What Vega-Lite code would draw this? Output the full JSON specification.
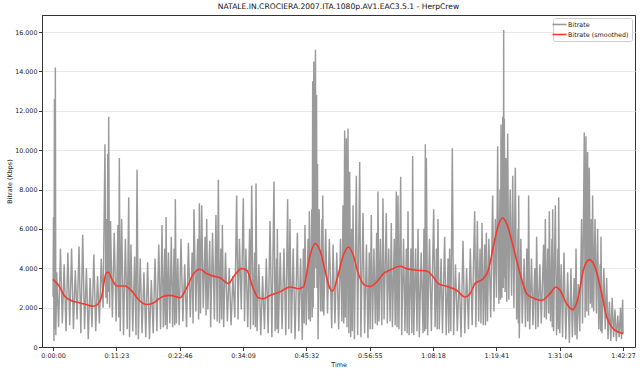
{
"$schema": "https://vega.github.io/schema/vega-lite/v6.json",
"width": 593, "height": 332,
"autosize": {"type": "none"},
"padding": {"left": 42, "top": 15, "right": 5, "bottom": 25},
"title": {"text": "NATALE.IN.CROCIERA.2007.ITA.1080p.AV1.EAC3.5.1 - HerpCrew", "fontSize": 7.6, "fontWeight": "normal", "color": "#111", "offset": 4},
"datasets": {
"raw": [
{"t":0,"b":2550},{"t":5,"b":6600},{"t":10,"b":300},{"t":15,"b":12600},{"t":20,"b":900},{"t":25,"b":14200},{"t":30,"b":600},{"t":40,"b":3800},{"t":60,"b":1000},{"t":80,"b":5000},{"t":100,"b":1200},{"t":120,"b":4200},{"t":140,"b":800},{"t":160,"b":4800},{"t":180,"b":1100},{"t":200,"b":5000},{"t":220,"b":900},{"t":240,"b":3900},{"t":260,"b":1400},{"t":280,"b":5100},{"t":300,"b":700},{"t":320,"b":5700},{"t":340,"b":900},{"t":360,"b":4000},{"t":380,"b":400},{"t":400,"b":3500},{"t":420,"b":1000},{"t":440,"b":4700},{"t":460,"b":800},{"t":480,"b":3600},{"t":500,"b":1200},{"t":520,"b":4500},{"t":540,"b":2000},{"t":560,"b":10300},{"t":570,"b":2500},{"t":580,"b":6500},{"t":585,"b":2200},{"t":590,"b":9800},{"t":595,"b":2800},{"t":600,"b":11700},{"t":610,"b":2000},{"t":620,"b":6400},{"t":640,"b":1500},{"t":660,"b":5800},{"t":680,"b":1300},{"t":700,"b":6200},{"t":708,"b":1500},{"t":715,"b":9600},{"t":725,"b":800},{"t":740,"b":6500},{"t":760,"b":600},{"t":780,"b":5500},{"t":800,"b":900},{"t":816,"b":7600},{"t":825,"b":500},{"t":840,"b":5200},{"t":860,"b":800},{"t":880,"b":4600},{"t":895,"b":600},{"t":906,"b":9000},{"t":920,"b":400},{"t":940,"b":4500},{"t":960,"b":700},{"t":980,"b":3800},{"t":1000,"b":500},{"t":1020,"b":4300},{"t":1040,"b":400},{"t":1060,"b":3400},{"t":1080,"b":700},{"t":1100,"b":4500},{"t":1120,"b":800},{"t":1140,"b":5200},{"t":1160,"b":900},{"t":1175,"b":6200},{"t":1190,"b":1000},{"t":1205,"b":5000},{"t":1212,"b":1100},{"t":1219,"b":6600},{"t":1230,"b":900},{"t":1245,"b":4800},{"t":1260,"b":1200},{"t":1275,"b":5600},{"t":1290,"b":1000},{"t":1305,"b":5000},{"t":1312,"b":1100},{"t":1319,"b":7500},{"t":1330,"b":1200},{"t":1345,"b":4500},{"t":1360,"b":1100},{"t":1380,"b":5500},{"t":1400,"b":1300},{"t":1420,"b":4200},{"t":1440,"b":1000},{"t":1460,"b":5300},{"t":1480,"b":1500},{"t":1500,"b":4800},{"t":1510,"b":1200},{"t":1520,"b":7000},{"t":1540,"b":1800},{"t":1560,"b":5500},{"t":1570,"b":1400},{"t":1578,"b":7300},{"t":1590,"b":1700},{"t":1603,"b":7200},{"t":1620,"b":2000},{"t":1640,"b":5600},{"t":1650,"b":1600},{"t":1657,"b":6500},{"t":1670,"b":1900},{"t":1690,"b":5400},{"t":1700,"b":1000},{"t":1720,"b":5800},{"t":1740,"b":1400},{"t":1757,"b":6700},{"t":1770,"b":1300},{"t":1783,"b":8500},{"t":1795,"b":1200},{"t":1810,"b":5000},{"t":1818,"b":1400},{"t":1826,"b":6200},{"t":1840,"b":1000},{"t":1860,"b":4800},{"t":1880,"b":1300},{"t":1900,"b":4000},{"t":1920,"b":1100},{"t":1940,"b":3600},{"t":1960,"b":1500},{"t":1980,"b":7700},{"t":1995,"b":1400},{"t":2010,"b":5500},{"t":2030,"b":1900},{"t":2052,"b":7550},{"t":2065,"b":1300},{"t":2080,"b":5000},{"t":2100,"b":1000},{"t":2120,"b":6000},{"t":2130,"b":900},{"t":2142,"b":8200},{"t":2160,"b":1100},{"t":2175,"b":4800},{"t":2182,"b":1000},{"t":2189,"b":8300},{"t":2200,"b":800},{"t":2220,"b":4200},{"t":2240,"b":600},{"t":2260,"b":3600},{"t":2280,"b":900},{"t":2300,"b":4500},{"t":2320,"b":700},{"t":2340,"b":6400},{"t":2360,"b":500},{"t":2383,"b":8400},{"t":2395,"b":800},{"t":2410,"b":4500},{"t":2415,"b":900},{"t":2419,"b":6000},{"t":2430,"b":700},{"t":2450,"b":4800},{"t":2470,"b":900},{"t":2490,"b":5000},{"t":2510,"b":600},{"t":2530,"b":7500},{"t":2542,"b":900},{"t":2555,"b":6500},{"t":2570,"b":700},{"t":2590,"b":5000},{"t":2610,"b":400},{"t":2635,"b":5800},{"t":2650,"b":800},{"t":2670,"b":4500},{"t":2688,"b":350},{"t":2700,"b":5000},{"t":2708,"b":1200},{"t":2717,"b":6200},{"t":2730,"b":1100},{"t":2750,"b":5500},{"t":2757,"b":1400},{"t":2764,"b":6900},{"t":2775,"b":1300},{"t":2790,"b":7000},{"t":2795,"b":1500},{"t":2800,"b":13500},{"t":2806,"b":2000},{"t":2812,"b":14500},{"t":2818,"b":3000},{"t":2826,"b":10400},{"t":2830,"b":15100},{"t":2836,"b":4000},{"t":2842,"b":12800},{"t":2846,"b":3000},{"t":2852,"b":9300},{"t":2858,"b":400},{"t":2870,"b":7000},{"t":2885,"b":1800},{"t":2900,"b":6500},{"t":2904,"b":1800},{"t":2908,"b":7700},{"t":2920,"b":1600},{"t":2940,"b":6000},{"t":2960,"b":1700},{"t":2980,"b":5500},{"t":3005,"b":950},{"t":3020,"b":5200},{"t":3040,"b":1200},{"t":3060,"b":4800},{"t":3080,"b":900},{"t":3100,"b":5500},{"t":3115,"b":1300},{"t":3127,"b":7200},{"t":3135,"b":1200},{"t":3145,"b":11000},{"t":3152,"b":1500},{"t":3163,"b":10600},{"t":3170,"b":1000},{"t":3181,"b":11100},{"t":3190,"b":700},{"t":3199,"b":8900},{"t":3210,"b":500},{"t":3220,"b":6000},{"t":3228,"b":800},{"t":3235,"b":7200},{"t":3250,"b":400},{"t":3271,"b":8700},{"t":3285,"b":600},{"t":3307,"b":9400},{"t":3320,"b":500},{"t":3343,"b":6800},{"t":3360,"b":700},{"t":3380,"b":5200},{"t":3396,"b":450},{"t":3410,"b":4800},{"t":3420,"b":900},{"t":3432,"b":6700},{"t":3445,"b":900},{"t":3460,"b":5000},{"t":3476,"b":1200},{"t":3490,"b":5800},{"t":3497,"b":1100},{"t":3504,"b":7900},{"t":3515,"b":1300},{"t":3530,"b":5500},{"t":3545,"b":1100},{"t":3558,"b":7550},{"t":3570,"b":1400},{"t":3594,"b":6800},{"t":3605,"b":1200},{"t":3620,"b":5000},{"t":3635,"b":1300},{"t":3648,"b":6300},{"t":3660,"b":1000},{"t":3680,"b":5500},{"t":3690,"b":1100},{"t":3702,"b":7900},{"t":3710,"b":1000},{"t":3720,"b":7700},{"t":3730,"b":900},{"t":3749,"b":8650},{"t":3760,"b":600},{"t":3780,"b":5500},{"t":3795,"b":800},{"t":3810,"b":5000},{"t":3819,"b":700},{"t":3828,"b":6900},{"t":3840,"b":600},{"t":3860,"b":5000},{"t":3870,"b":700},{"t":3878,"b":9700},{"t":3890,"b":600},{"t":3910,"b":5000},{"t":3925,"b":800},{"t":3936,"b":6000},{"t":3950,"b":500},{"t":3970,"b":4800},{"t":3990,"b":700},{"t":4000,"b":6000},{"t":4008,"b":800},{"t":4015,"b":10300},{"t":4020,"b":900},{"t":4026,"b":9600},{"t":4040,"b":600},{"t":4060,"b":5500},{"t":4080,"b":800},{"t":4105,"b":7000},{"t":4120,"b":1000},{"t":4135,"b":5000},{"t":4143,"b":900},{"t":4151,"b":6500},{"t":4165,"b":900},{"t":4185,"b":4500},{"t":4200,"b":700},{"t":4223,"b":5600},{"t":4240,"b":600},{"t":4260,"b":4500},{"t":4268,"b":700},{"t":4277,"b":5000},{"t":4290,"b":800},{"t":4306,"b":10100},{"t":4320,"b":600},{"t":4340,"b":4200},{"t":4360,"b":800},{"t":4380,"b":3800},{"t":4400,"b":500},{"t":4421,"b":5400},{"t":4440,"b":700},{"t":4460,"b":4000},{"t":4480,"b":900},{"t":4500,"b":5000},{"t":4520,"b":1100},{"t":4547,"b":6900},{"t":4560,"b":1000},{"t":4576,"b":6400},{"t":4590,"b":1300},{"t":4605,"b":5000},{"t":4615,"b":1200},{"t":4626,"b":6300},{"t":4640,"b":1100},{"t":4655,"b":5200},{"t":4664,"b":1100},{"t":4673,"b":5800},{"t":4685,"b":1300},{"t":4700,"b":5500},{"t":4720,"b":1500},{"t":4741,"b":7700},{"t":4755,"b":1800},{"t":4770,"b":6500},{"t":4782,"b":2500},{"t":4795,"b":10200},{"t":4808,"b":2200},{"t":4820,"b":8000},{"t":4826,"b":2400},{"t":4831,"b":11300},{"t":4840,"b":2500},{"t":4849,"b":11700},{"t":4855,"b":3000},{"t":4860,"b":16100},{"t":4863,"b":3500},{"t":4867,"b":11600},{"t":4875,"b":2800},{"t":4885,"b":9600},{"t":4893,"b":2300},{"t":4903,"b":10850},{"t":4915,"b":2400},{"t":4930,"b":8000},{"t":4945,"b":2600},{"t":4957,"b":8700},{"t":4970,"b":2000},{"t":4985,"b":9100},{"t":5000,"b":1400},{"t":5015,"b":6000},{"t":5018,"b":1200},{"t":5022,"b":7700},{"t":5028,"b":450},{"t":5045,"b":5500},{"t":5060,"b":1200},{"t":5080,"b":4500},{"t":5095,"b":1000},{"t":5110,"b":5000},{"t":5120,"b":1300},{"t":5129,"b":7700},{"t":5140,"b":900},{"t":5160,"b":4500},{"t":5175,"b":1100},{"t":5195,"b":4000},{"t":5205,"b":900},{"t":5215,"b":5600},{"t":5230,"b":1000},{"t":5250,"b":4200},{"t":5265,"b":1200},{"t":5290,"b":5200},{"t":5300,"b":1500},{"t":5309,"b":6500},{"t":5320,"b":1400},{"t":5335,"b":5000},{"t":5345,"b":1700},{"t":5352,"b":6900},{"t":5365,"b":1300},{"t":5380,"b":5500},{"t":5384,"b":1000},{"t":5388,"b":7000},{"t":5398,"b":800},{"t":5417,"b":7200},{"t":5430,"b":600},{"t":5445,"b":5000},{"t":5449,"b":900},{"t":5453,"b":7600},{"t":5465,"b":700},{"t":5480,"b":4200},{"t":5495,"b":500},{"t":5510,"b":4800},{"t":5530,"b":400},{"t":5550,"b":3800},{"t":5568,"b":200},{"t":5585,"b":4000},{"t":5600,"b":500},{"t":5620,"b":3500},{"t":5630,"b":600},{"t":5640,"b":5000},{"t":5650,"b":400},{"t":5665,"b":3200},{"t":5680,"b":800},{"t":5700,"b":6500},{"t":5710,"b":1200},{"t":5729,"b":10900},{"t":5738,"b":1500},{"t":5747,"b":10700},{"t":5755,"b":1800},{"t":5765,"b":9900},{"t":5775,"b":1600},{"t":5783,"b":9100},{"t":5795,"b":2200},{"t":5805,"b":6500},{"t":5812,"b":2000},{"t":5819,"b":7700},{"t":5830,"b":1800},{"t":5845,"b":6500},{"t":5860,"b":1700},{"t":5873,"b":6000},{"t":5885,"b":900},{"t":5900,"b":4200},{"t":5905,"b":800},{"t":5909,"b":5600},{"t":5920,"b":700},{"t":5940,"b":4000},{"t":5955,"b":900},{"t":5970,"b":3500},{"t":5985,"b":400},{"t":6000,"b":2300},{"t":6015,"b":300},{"t":6030,"b":2500},{"t":6045,"b":500},{"t":6060,"b":1900},{"t":6075,"b":300},{"t":6090,"b":1600},{"t":6105,"b":500},{"t":6120,"b":2000},{"t":6130,"b":400},{"t":6143,"b":2400},{"t":6147,"b":700}
],
"smooth": [
{"t":0,"b":3440},{"t":58,"b":3150},{"t":129,"b":2560},{"t":201,"b":2350},{"t":291,"b":2240},{"t":381,"b":2120},{"t":435,"b":2070},{"t":489,"b":2200},{"t":525,"b":2600},{"t":572,"b":3740},{"t":597,"b":3800},{"t":633,"b":3460},{"t":687,"b":3100},{"t":776,"b":3100},{"t":848,"b":2850},{"t":938,"b":2330},{"t":1010,"b":2160},{"t":1082,"b":2240},{"t":1190,"b":2580},{"t":1262,"b":2620},{"t":1370,"b":2500},{"t":1441,"b":3000},{"t":1513,"b":3700},{"t":1585,"b":3950},{"t":1657,"b":3730},{"t":1729,"b":3600},{"t":1801,"b":3520},{"t":1891,"b":3220},{"t":1945,"b":3560},{"t":2035,"b":3980},{"t":2089,"b":3900},{"t":2160,"b":2960},{"t":2214,"b":2500},{"t":2268,"b":2450},{"t":2340,"b":2620},{"t":2448,"b":2800},{"t":2556,"b":3050},{"t":2646,"b":2960},{"t":2700,"b":3050},{"t":2772,"b":4660},{"t":2825,"b":5260},{"t":2879,"b":4900},{"t":2933,"b":3900},{"t":2987,"b":2960},{"t":3016,"b":2840},{"t":3059,"b":3380},{"t":3131,"b":4660},{"t":3185,"b":5080},{"t":3238,"b":4660},{"t":3292,"b":3730},{"t":3364,"b":3130},{"t":3418,"b":3080},{"t":3490,"b":3300},{"t":3562,"b":3730},{"t":3634,"b":3900},{"t":3742,"b":4100},{"t":3814,"b":3980},{"t":3921,"b":3900},{"t":4029,"b":3860},{"t":4101,"b":3560},{"t":4155,"b":3220},{"t":4245,"b":3080},{"t":4353,"b":2880},{"t":4443,"b":2540},{"t":4497,"b":2710},{"t":4550,"b":3220},{"t":4640,"b":3470},{"t":4694,"b":3900},{"t":4748,"b":5080},{"t":4802,"b":6180},{"t":4849,"b":6550},{"t":4892,"b":6270},{"t":4964,"b":5080},{"t":5036,"b":3730},{"t":5108,"b":2710},{"t":5197,"b":2450},{"t":5269,"b":2370},{"t":5359,"b":2710},{"t":5424,"b":3050},{"t":5467,"b":2880},{"t":5539,"b":2200},{"t":5604,"b":1900},{"t":5665,"b":2540},{"t":5719,"b":3900},{"t":5784,"b":4440},{"t":5845,"b":4060},{"t":5917,"b":2710},{"t":5971,"b":1520},{"t":6042,"b":930},{"t":6096,"b":760},{"t":6150,"b":680}
]
},
"layer": [
{
"data": {"name": "raw"},
"mark": {"type": "line", "strokeWidth": 1.45, "clip": true},
"encoding": {
"x": {"field": "t", "type": "quantitative", "scale": {"domain": [-119, 6276], "nice": false, "zero": false},
"axis": {"title": "Time", "values": [0,683,1366,2049,2732,3415,4098,4781,5464,6147], "labelExpr": "utcFormat(datum.value*1000, '%-H:%M:%S')", "grid": false, "tickSize": 3.5, "labelPadding": 2, "titlePadding": 3}},
"y": {"field": "b", "type": "quantitative", "scale": {"domain": [0, 16864], "nice": false},
"axis": {"title": "Bitrate (Kbps)", "values": [0,2000,4000,6000,8000,10000,12000,14000,16000], "labelExpr": "replace(format(datum.value, ','), ',', '.')", "grid": true, "tickSize": 3.5, "labelPadding": 1.5, "titleX": -30, "titleBaseline": "bottom"}},
"color": {"datum": "Bitrate", "type": "nominal", "scale": {"domain": ["Bitrate", "Bitrate (smoothed)"], "range": ["#9a9a9a", "#f23a2e"]}, "legend": {"title": null}}
}
},
{
"data": {"name": "smooth"},
"mark": {"type": "line", "strokeWidth": 1.6, "interpolate": "monotone"},
"encoding": {
"x": {"field": "t", "type": "quantitative"},
"y": {"field": "b", "type": "quantitative"},
"color": {"datum": "Bitrate (smoothed)", "type": "nominal"}
}
}
],
"config": {
"font": "DejaVu Sans",
"view": {"stroke": "#333333", "strokeWidth": 1},
"axis": {"labelFontSize": 6.4, "titleFontSize": 6.4, "titleFontWeight": "normal", "labelColor": "#222222", "titleColor": "#222222", "tickColor": "#333333", "domainColor": "#333333", "gridColor": "#e8e8e8", "labelFont": "DejaVu Sans", "titleFont": "DejaVu Sans"},
"legend": {"orient": "top-right", "offset": 3, "padding": 3, "strokeColor": "#cccccc", "fillColor": "white", "cornerRadius": 2, "labelFontSize": 6.4, "labelFont": "DejaVu Sans", "labelColor": "#222222", "symbolType": "M-2.8,0H2.8", "symbolSize": 25, "symbolStrokeWidth": 1.6, "rowPadding": 3, "labelOffset": 5}
}
}
